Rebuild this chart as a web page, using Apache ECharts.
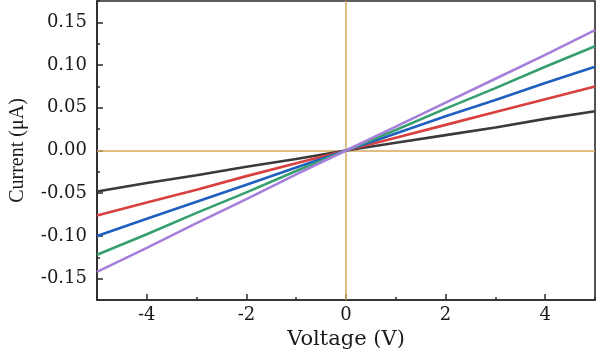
<!DOCTYPE html>
<html><head><meta charset="utf-8">
<script src="https://cdn.jsdelivr.net/npm/echarts@6/dist/echarts.min.js"></script>
<style>html,body{margin:0;padding:0;background:#fff}#c{width:600px;height:350px}</style>
</head><body><div id="c"></div>
<script>
var voltage = [-5,-4,-3,-2,-1,0,1,2,3,4,5];
var seriesNames = ['S1','S2','S3','S4','S5'];
var black  = [-0.048,-0.038,-0.029,-0.019,-0.010,0,0.009,0.018,0.027,0.037,0.046];
var red    = [-0.076,-0.061,-0.046,-0.030,-0.015,0,0.015,0.030,0.045,0.060,0.075];
var blue   = [-0.100,-0.080,-0.060,-0.040,-0.020,0,0.020,0.040,0.059,0.079,0.098];
var green  = [-0.122,-0.098,-0.073,-0.049,-0.024,0,0.024,0.049,0.073,0.098,0.122];
var purple = [-0.142,-0.114,-0.085,-0.057,-0.028,0,0.028,0.056,0.084,0.112,0.141];
var xMajor = [-4,-2,0,2,4];
var xMinor = [-5,-3,-1,1,3,5];
var yMajor = [-0.15,-0.10,-0.05,0,0.05,0.10,0.15];
var yMinor = [-0.175,-0.125,-0.075,-0.025,0.025,0.075,0.125,0.175];

var colors = ['#3a3a3a','#d9403f','#1f5fc0','#35a06e','#a57fda'];
var allData = [black, red, blue, green, purple];

function pairs(ys){ return voltage.map(function(v,i){return [v, ys[i]];}); }

var axisCol = '#2a2a2a';
var hFont = 'DejaVu Serif';
var series = allData.map(function(d,i){
  return {name: seriesNames[i], type:'line', data: pairs(d), showSymbol:false, symbol:'none',
    lineStyle:{color:colors[i], width:2.6}, itemStyle:{color:colors[i]}, z: 3+i, xAxisIndex:0, yAxisIndex:0};
});
series[0].markLine = {silent:true, symbol:'none', label:{show:false},
  lineStyle:{color:'#d8a85e', width:1.5, type:'solid'},
  data:[{xAxis:0},{yAxis:0}], z:1};

var chart = echarts.init(document.getElementById('c'), null, {renderer:'canvas'});
chart.setOption({
  animation:false,
  backgroundColor:'#fff',
  grid:{left:97, right:5, top:1, bottom:50, show:true, borderColor:axisCol, borderWidth:1.6, backgroundColor:'transparent',
    containLabel:false, outerBoundsMode:'none'},
  xAxis:[{
    type:'value', min:-5, max:5, gridIndex:0,
    name:'Voltage (V)', nameLocation:'middle', nameGap:27,
    nameTextStyle:{fontFamily:hFont, fontSize:21, color:'#1a1a1a'},
    axisLine:{show:true, onZero:false, lineStyle:{color:axisCol, width:1.6}},
    axisTick:{show:true, inside:true, length:6, customValues:xMajor, lineStyle:{color:axisCol, width:1.5}},
    axisLabel:{show:true, customValues:xMajor, fontFamily:hFont, fontSize:18, color:'#1a1a1a', margin:6,
      formatter:function(v){return String(v);}},
    splitLine:{show:false}
  },{
    type:'value', min:-5, max:5, gridIndex:0, position:'bottom',
    axisLine:{show:false, onZero:false},
    axisTick:{show:true, inside:true, length:3, customValues:xMinor, lineStyle:{color:axisCol, width:1.5}},
    axisLabel:{show:false}, splitLine:{show:false}
  }],
  yAxis:[{
    type:'value', min:-0.175, max:0.175, gridIndex:0,
    name:'Current (\u03bcA)', nameLocation:'middle', nameGap:69, nameRotate:90,
    nameTextStyle:{fontFamily:'Liberation Serif', fontSize:20, color:'#1a1a1a'},
    axisLine:{show:true, onZero:false, lineStyle:{color:axisCol, width:1.6}},
    axisTick:{show:true, inside:true, length:6, customValues:yMajor, lineStyle:{color:axisCol, width:1.5}},
    axisLabel:{show:true, customValues:yMajor, fontFamily:hFont, fontSize:18, color:'#1a1a1a', margin:10,
      formatter:function(v){return (Math.abs(v)<1e-9?0:v).toFixed(2);}},
    splitLine:{show:false}
  },{
    type:'value', min:-0.175, max:0.175, gridIndex:0, position:'left',
    axisLine:{show:false, onZero:false},
    axisTick:{show:true, inside:true, length:3, customValues:yMinor, lineStyle:{color:axisCol, width:1.5}},
    axisLabel:{show:false}, splitLine:{show:false}
  }],
  series: series
});
</script></body></html>
